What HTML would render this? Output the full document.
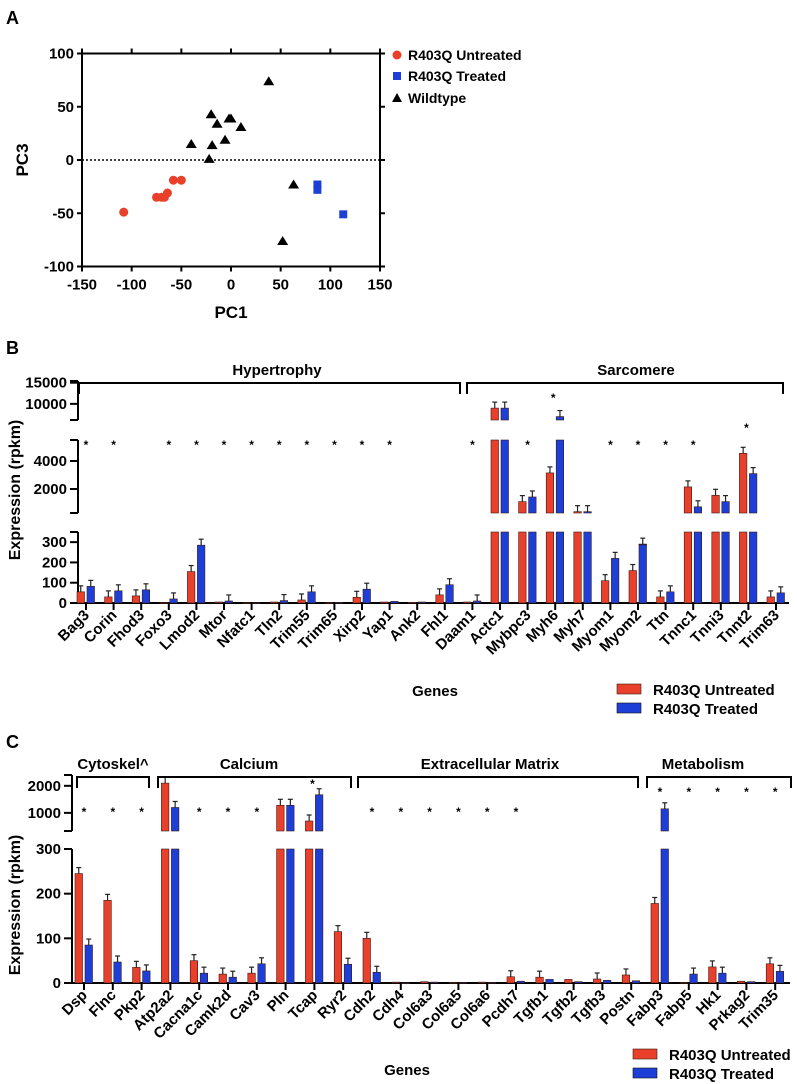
<!DOCTYPE html>
<html><head><meta charset="utf-8">
<style>
html,body{margin:0;padding:0;background:#fff;}
svg{display:block;font-family:"Liberation Sans",Arial,sans-serif;font-weight:bold;}
</style></head>
<body>
<svg id="fig" width="797" height="1084" viewBox="0 0 797 1084" xmlns="http://www.w3.org/2000/svg">
<g id="pa"></g>
<g id="pb"></g>
<g id="pc"></g>
</svg>
<script>
// ---------- Panel A data ----------
const pcaRedX = [-108,-75,-70,-67,-64,-58,-50];
const pcaRedY = [-49,-35,-35,-35,-31,-19,-19];
const pcaBlueX = [87,87,113];
const pcaBlueY = [-23,-28,-51];
const pcaBlackX = [38,-20,-14,-2,0,10,-6,-40,-19,-22,63,52];
const pcaBlackY = [74,43,34,39,39,31,19,15,14,1,-23,-76];
const pcaTicks = [-150,-100,-50,0,50,100,150];
const pcaYTicks = [-100,-50,0,50,100];

// ---------- Panel B data ----------
const genesB = ["Bag3","Corin","Fhod3","Foxo3","Lmod2","Mtor","Nfatc1","Tln2","Trim55","Trim65","Xirp2","Yap1","Ank2","Fhl1","Daam1","Actc1","Mybpc3","Myh6","Myh7","Myom1","Myom2","Ttn","Tnnc1","Tnni3","Tnnt2","Trim63"];
const untreatedB = [55,30,35,2,155,5,2,5,15,2,28,5,3,40,5,9000,1100,3150,380,110,160,30,2150,1550,4550,30];
const treatedB = [82,60,65,20,285,10,2,12,55,3,68,8,5,90,10,9000,1430,7000,380,220,290,55,730,1100,3100,50];
const starsB = ["Bag3","Corin","Foxo3","Lmod2","Mtor","Nfatc1","Tln2","Trim55","Trim65","Xirp2","Yap1","Daam1","Mybpc3","Myom1","Myom2","Ttn","Tnnc1"];
const yTicksB = [0,100,200,300,2000,4000,10000,15000];

// ---------- Panel C data ----------
const genesC = ["Dsp","Flnc","Pkp2","Atp2a2","Cacna1c","Camk2d","Cav3","Pln","Tcap","Ryr2","Cdh2","Cdh4","Col6a3","Col6a5","Col6a6","Pcdh7","Tgfb1","Tgfb2","Tgfb3","Postn","Fabp3","Fabp5","Hk1","Prkag2","Trim35"];
const untreatedC = [245,185,35,2100,50,20,22,1280,700,115,100,2,3,1,2,14,13,8,9,18,178,1,36,4,43];
const treatedC = [85,47,27,1200,22,13,43,1280,1670,42,24,0.5,2,1,1,4,8,3,6,5,1150,20,22,3,26];
const starsC = ["Dsp","Flnc","Pkp2","Cacna1c","Camk2d","Cav3","Cdh2","Cdh4","Col6a3","Col6a5","Col6a6","Pcdh7"];
const starsCHigh = ["Fabp3","Fabp5","Hk1","Prkag2","Trim35"];
const yTicksC = [0,100,200,300,1000,2000];

const NS="http://www.w3.org/2000/svg";
function mk(parent,tag,attrs,text){const e=document.createElementNS(NS,tag);for(const k in attrs)e.setAttribute(k,attrs[k]);if(text!==undefined)e.textContent=text;parent.appendChild(e);return e;}
const RED="#e8402a", BLUE="#1d3fd8";

// ================= Panel A =================
(function(){
const g=document.getElementById('pa');
const sx=v=>82+(v+150)*(298/300), sy=v=>160-v*(213/200);
let t=mk(g,'text',{x:6,y:24,'font-size':18},'A');


let f=mk(g,'rect',{x:sx(-150),y:sy(100),width:sx(150)-sx(-150),height:sy(-100)-sy(100),fill:'none',stroke:'#000','stroke-width':2});


let z=mk(g,'line',{x1:sx(-150),x2:sx(150),y1:sy(0),y2:sy(0),stroke:'#000','stroke-width':1.5,'stroke-dasharray':'2,2'});


pcaTicks.forEach(v=>{
  mk(g,'line',{x1:sx(v),x2:sx(v),y1:sy(-100),y2:sy(-100)+5,stroke:'#000','stroke-width':2});
  mk(g,'line',{x1:sx(v),x2:sx(v),y1:sy(100),y2:sy(100)-5,stroke:'#000','stroke-width':2});
  let l=mk(g,'text',{x:sx(v),y:sy(-100)+23,'font-size':15,'text-anchor':'middle'},String(v));
  
  
});
pcaYTicks.forEach(v=>{
  mk(g,'line',{x1:sx(-150)-5,x2:sx(-150),y1:sy(v),y2:sy(v),stroke:'#000','stroke-width':2});
  mk(g,'line',{x1:sx(150),x2:sx(150)+5,y1:sy(v),y2:sy(v),stroke:'#000','stroke-width':2});
  let l=mk(g,'text',{x:sx(-150)-8,y:sy(v)+5,'font-size':15,'text-anchor':'end'},String(v));
  
  
});
let xt=mk(g,'text',{x:231,y:318,'font-size':17,'text-anchor':'middle'},'PC1');


let yt=mk(g,'text',{x:28,y:160,'font-size':17,'text-anchor':'middle',transform:'rotate(-90 28 160)'},'PC3');


pcaRedX.forEach((x,i)=>{let c=mk(g,'circle',{cx:sx(x),cy:sy(pcaRedY[i]),r:4.5,fill:RED});
  
  });
pcaBlueX.forEach((x,i)=>{let c=mk(g,'rect',{x:sx(x)-4,y:sy(pcaBlueY[i])-4,width:8,height:8,fill:BLUE});
  
  });
pcaBlackX.forEach((x,i)=>{const cx=sx(x),cy=sy(pcaBlackY[i]);let c=mk(g,'polygon',{points:`${cx},${cy-5} ${cx-5.5},${cy+4} ${cx+5.5},${cy+4}`,fill:'#000'});
  
  });
let le=mk(g,'g',{});


mk(le,'circle',{cx:397,cy:55,r:4.5,fill:RED});
mk(le,'text',{x:408,y:60,'font-size':14},'R403Q Untreated');
mk(le,'rect',{x:393,y:72,width:8,height:8,fill:BLUE});
mk(le,'text',{x:408,y:81,'font-size':14},'R403Q Treated');
mk(le,'polygon',{points:'397,93 392,102 402,102',fill:'#000'});
mk(le,'text',{x:408,y:103,'font-size':14},'Wildtype');
})();

// ================= Generic broken bar chart =================
function barChart(gid,cfg){
const g=document.getElementById(gid);
const segs=cfg.segs;
function ypos(v){for(const s of segs){if(v>=s.lo&&v<=s.hi)return s.y0-(v-s.lo)*(s.y0-s.y1)/(s.hi-s.lo);}return null;}
const xpos=i=>cfg.x0+i*cfg.dx;
let t=mk(g,'text',{x:6,y:cfg.letterY,'font-size':18},cfg.letter);


segs.forEach(s=>{
  let a=mk(g,'line',{x1:cfg.ax,x2:cfg.ax,y1:s.y0,y2:s.y1,stroke:'#000','stroke-width':2});
  
  
  mk(g,'line',{x1:cfg.ax-8,x2:cfg.ax,y1:s.y1,y2:s.y1,stroke:'#000','stroke-width':2});
  mk(g,'line',{x1:cfg.ax-8,x2:cfg.ax,y1:s.y0,y2:s.y0,stroke:'#000','stroke-width':2});
});
cfg.ticks.forEach(v=>{const y=ypos(v);
  mk(g,'line',{x1:cfg.ax-8,x2:cfg.ax,y1:y,y2:y,stroke:'#000','stroke-width':2});
  let l=mk(g,'text',{x:cfg.ax-11,y:y+5,'font-size':15,'text-anchor':'end'},String(v));
  
  
});
const base=segs[0].y0;
let xa=mk(g,'line',{x1:cfg.ax,x2:cfg.axEnd,y1:base,y2:base,stroke:'#000','stroke-width':2});


let yt=mk(g,'text',{x:cfg.titleX,y:cfg.titleY,'font-size':16,'text-anchor':'middle',transform:`rotate(-90 ${cfg.titleX} ${cfg.titleY})`},'Expression (rpkm)');


function drawBar(v,x,w,color,name){
  segs.forEach(s=>{ if(v<=s.lo)return; const top=Math.min(v,s.hi);
    const y0=s.y0, y1=ypos(top);
    let r=mk(g,'rect',{x:x,y:y1,width:w,height:Math.max(0.8,y0-y1),fill:color,stroke:'#3a1a14','stroke-width':0.6});
    
    
  });
  const yt=ypos(Math.min(v,segs[segs.length-1].hi));
  if(yt!==null&&v>8){
    mk(g,'line',{x1:x+w/2,x2:x+w/2,y1:yt,y2:yt-6,stroke:'#222','stroke-width':1.2});
    mk(g,'line',{x1:x+w/2-2.5,x2:x+w/2+2.5,y1:yt-6,y2:yt-6,stroke:'#222','stroke-width':1.2});
  }
}
cfg.genes.forEach((gn,i)=>{
  const x=xpos(i);
  mk(g,'line',{x1:x,x2:x,y1:base,y2:base+7,stroke:'#000','stroke-width':2});
  drawBar(cfg.red[i],x-9,7.5,RED,'bar-untreated-'+gn.toLowerCase());
  drawBar(cfg.blue[i],x+1,7.5,BLUE,'bar-treated-'+gn.toLowerCase());
  const lx=x+4, ly=base+13;
  let l=mk(g,'text',{x:lx,y:ly,'font-size':15,'text-anchor':'end',transform:`rotate(-45 ${lx} ${ly})`},gn);
  
  
});
cfg.stars.forEach(st=>{const i=cfg.genes.indexOf(st[0]);
  let s=mk(g,'text',{x:xpos(i)+(st[2]||0),y:st[1]+5,'font-size':12,'text-anchor':'middle'},'*');
  
  
});
cfg.brackets.forEach(b=>{
  let p=mk(g,'path',{d:`M${b[0]},${b[3]+11} V${b[3]} H${b[1]} V${b[3]+11}`,fill:'none',stroke:'#000','stroke-width':2});
  
  
  let l=mk(g,'text',{x:b[4],y:b[3]-8,'font-size':15,'text-anchor':'middle'},b[2]);
  
  
});
let gx=mk(g,'text',{x:cfg.genesX,y:cfg.genesY,'font-size':15,'text-anchor':'middle'},'Genes');


let le=mk(g,'g',{});


mk(le,'rect',{x:cfg.legX,y:cfg.legY-6,width:24,height:10,fill:RED,stroke:'#3a1a14','stroke-width':0.6});
mk(le,'text',{x:cfg.legX+36,y:cfg.legY+5,'font-size':15},'R403Q Untreated');
mk(le,'rect',{x:cfg.legX,y:cfg.legY+13,width:24,height:10,fill:BLUE,stroke:'#111','stroke-width':0.6});
mk(le,'text',{x:cfg.legX+36,y:cfg.legY+24,'font-size':15},'R403Q Treated');
}

barChart('pb',{
 letter:'B',letterY:354,genes:genesB,red:untreatedB,blue:treatedB,
 segs:[{lo:0,hi:350,y0:603,y1:532},{lo:286,hi:5500,y0:513,y1:440},{lo:6190,hi:15400,y0:420,y1:381}],
 ticks:yTicksB,ax:78,axEnd:789,x0:86,dx:27.6,titleX:20,titleY:490,
 stars:starsB.map(s=>[s,444]).concat([["Myh6",397,-2],["Tnnt2",427,-2]]),
 brackets:[[79,460,'Hypertrophy',383,277],[467,783,'Sarcomere',383,636]],
 genesX:435,genesY:696,legX:617,legY:690
});
barChart('pc',{
 letter:'C',letterY:748,genes:genesC,red:untreatedC,blue:treatedC,
 segs:[{lo:0,hi:300,y0:983,y1:849},{lo:330,hi:2400,y0:831,y1:775}],
 ticks:yTicksC,ax:72,axEnd:790,x0:84,dx:28.8,titleX:20,titleY:905,
 stars:starsC.map(s=>[s,811]).concat(starsCHigh.map(s=>[s,791])).concat([["Tcap",783,-2]]),
 brackets:[[77,149,'Cytoskel^',777,113],[158,351,'Calcium',777,249],[358,638,'Extracellular Matrix',777,490],[647,791,'Metabolism',777,703]],
 genesX:407,genesY:1075,legX:633,legY:1055
});
</script>
</body></html>
